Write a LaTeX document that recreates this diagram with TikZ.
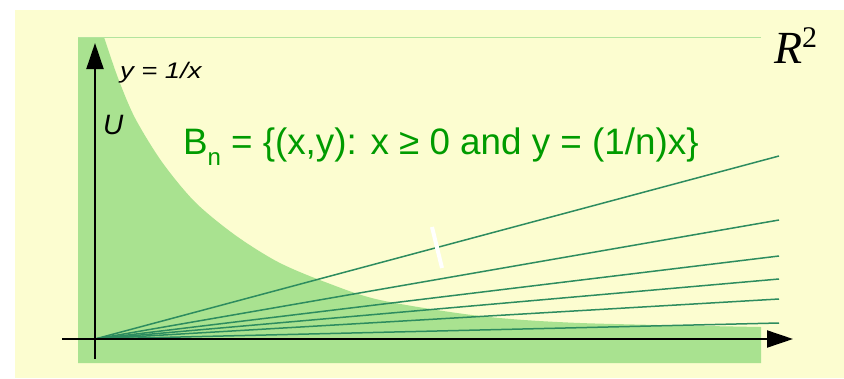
\documentclass[tikz,border=0pt]{standalone}
\usepackage{fontspec}
\setmainfont{Liberation Serif}
\newfontfamily\arialf{Liberation Sans}
\usetikzlibrary{arrows.meta}
\definecolor{bgyellow}{RGB}{252,253,208}
\definecolor{ufill}{RGB}{169,226,144}
\definecolor{uedge}{RGB}{178,228,158}
\definecolor{raycol}{RGB}{45,140,95}
\definecolor{textgreen}{RGB}{0,155,0}
\tikzset{
  axisline/.style={line width=2pt, black, -{Triangle[length=26pt,width=17pt]}},
  rayline/.style={line width=1.5pt, raycol},
  lbl/.style={inner sep=0pt, outer sep=0pt, anchor=base west},
}
\begin{document}
\begin{tikzpicture}[x=1pt,y=-1pt]
\useasboundingbox (0,0) rectangle (844,378);
% background
\fill[bgyellow] (15,10) rectangle (844,378);
% region U
\fill[ufill] (78,37) -- plot[smooth, tension=0.5] coordinates {(104,37) (118,78) (135,118) (162,162) (195,202) (235,235) (278,262) (325,282) (380,300) (480,316) (580,323) (761,327)} -- (761,363) -- (78,363) -- cycle;
\draw[uedge, line width=1pt] (78,37) -- (761,37);
% rays B_n
\coordinate (O) at (95,339);
\coordinate (r1) at (779,156);
\coordinate (r2) at (779,220);
\coordinate (r3) at (779,256);
\coordinate (r4) at (779,279);
\coordinate (r5) at (779,299);
\coordinate (r6) at (779,323);
\foreach \r in {r1,r2,r3,r4,r5,r6} \draw[rayline] (O) -- (\r);
% white tick
\coordinate (w1) at (432,227);
\coordinate (w2) at (442,268);
\draw[white, line width=4pt] (w1) -- (w2);
% axes
\coordinate (xs) at (62,339);
\coordinate (xe) at (793,339);
\coordinate (ys) at (95,359);
\coordinate (ye) at (95,43);
\draw[axisline] (xs) -- (xe);
\draw[axisline] (ys) -- (ye);
% labels
\node[lbl] (curve) at (120,78) {\scalebox{1.22}[1]{\arialf\itshape\fontsize{22.5}{22.5}\selectfont y = 1/x}};
\node[lbl] (U) at (103,134) {\arialf\itshape\fontsize{28}{28}\selectfont U};
\node[lbl, text=textgreen] (Bn) at (183,154) {\arialf\fontsize{36.8}{36.8}\selectfont B\raisebox{-11pt}{\fontsize{24}{24}\selectfont n} = \{(x,y): x ≥ 0 and y = (1/n)x\}};
\node[lbl] (R2) at (774,63) {\fontsize{46}{46}\selectfont\itshape R\raisebox{16pt}{\upshape\fontsize{30}{30}\selectfont 2}};
\end{tikzpicture}
\end{document}
